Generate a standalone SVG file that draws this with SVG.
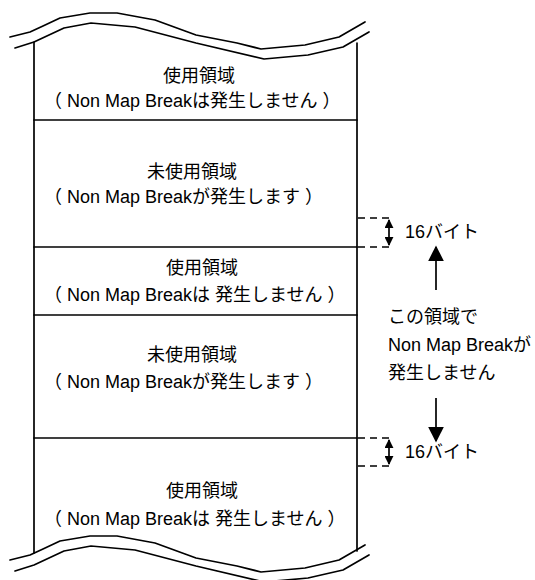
<svg xmlns="http://www.w3.org/2000/svg" width="535" height="580" viewBox="0 0 535 580">
<defs>
<style>
.ln{fill:none;stroke:#000;stroke-width:1.7;stroke-linejoin:round;stroke-linecap:round}
.ds{fill:none;stroke:#000;stroke-width:1.5;stroke-dasharray:7 5}
.ar{fill:none;stroke:#000;stroke-width:1.7}
.t{font-family:"Liberation Sans","Noto Sans CJK JP",sans-serif;font-size:18px;fill:#000}
.c{text-anchor:middle}
</style>
<marker id="ah" viewBox="0 0 10 10" refX="9" refY="5" markerWidth="9" markerHeight="9" markerUnits="userSpaceOnUse" orient="auto-start-reverse">
<path d="M0,0 L10,5 L0,10 Z" fill="#000"/>
</marker>
<marker id="big" viewBox="0 0 10 10" refX="9" refY="5" markerWidth="16" markerHeight="16" markerUnits="userSpaceOnUse" orient="auto">
<path d="M0,0 L10,5 L0,10 Z" fill="#000"/>
</marker>
</defs>
<rect width="535" height="580" fill="#fff"/>
<g id="frame">
<path id="wave-top-a" class="ln" d="M10,37 L30,32 L43,26 L60,18 L90,13 L117,13 L155,20 L196,35 L237,43 L261,49 L305,45 L339,37 L365,22"/>
<path id="wave-top-b" class="ln" d="M15,48 L34,42 L64,28 L91,23 L135,27 L196,43 L264,59 L308,55 L343,47 L369,32"/>
<line class="ln" x1="34" y1="42" x2="34" y2="553"/>
<line class="ln" x1="357" y1="43" x2="357" y2="551"/>
<path id="wave-bot-a" class="ln" d="M10,560 L30,555 L43,549 L60,541 L90,536 L117,536 L155,543 L196,558 L237,566 L261,572 L305,568 L339,560 L365,545"/>
<path id="wave-bot-b" class="ln" d="M15,571 L34,565 L64,551 L91,546 L135,550 L196,566 L264,582 L308,578 L343,570 L369,555"/>
<line class="ln" x1="34" y1="120" x2="357" y2="120"/>
<line class="ln" x1="34" y1="247" x2="357" y2="247"/>
<line class="ln" x1="34" y1="315" x2="357" y2="315"/>
<line class="ln" x1="34" y1="438" x2="357" y2="438"/>
</g>
<g id="s1">
<text class="t c" x="199" y="82">使用領域</text>
<text class="t" x="44" y="107">（ Non Map Breakは発生しません ）</text>
</g>
<g id="s2">
<text class="t c" x="192" y="178">未使用領域</text>
<text class="t" x="44" y="203">（ Non Map Breakが発生します ）</text>
</g>
<g id="s3">
<text class="t c" x="202" y="274">使用領域</text>
<text class="t" x="44" y="301">（ Non Map Breakは 発生しません ）</text>
</g>
<g id="s4">
<text class="t c" x="192" y="361">未使用領域</text>
<text class="t" x="44" y="388">（ Non Map Breakが発生します ）</text>
</g>
<g id="s5">
<text class="t c" x="202" y="497">使用領域</text>
<text class="t" x="44" y="525">（ Non Map Breakは 発生しません ）</text>
</g>
<g id="connectors">
<line class="ds" x1="358" y1="218" x2="392" y2="218"/>
<line class="ds" x1="358" y1="247" x2="392" y2="247"/>
<line class="ar" x1="389" y1="220" x2="389" y2="245" marker-start="url(#ah)" marker-end="url(#ah)"/>
<line class="ds" x1="358" y1="438" x2="392" y2="438"/>
<line class="ds" x1="358" y1="466" x2="392" y2="466"/>
<line class="ar" x1="389" y1="440" x2="389" y2="464" marker-start="url(#ah)" marker-end="url(#ah)"/>
<line class="ar" x1="436" y1="290" x2="436" y2="247" marker-end="url(#big)"/>
<line class="ar" x1="436" y1="398" x2="436" y2="441" marker-end="url(#big)"/>
</g>
<g id="labels">
<text class="t" x="405" y="238">16バイト</text>
<text class="t" x="405" y="458">16バイト</text>
<text class="t" x="388" y="323">この領域で</text>
<text class="t" x="388" y="351">Non Map Breakが</text>
<text class="t" x="388" y="379">発生しません</text>
</g>
</svg>
